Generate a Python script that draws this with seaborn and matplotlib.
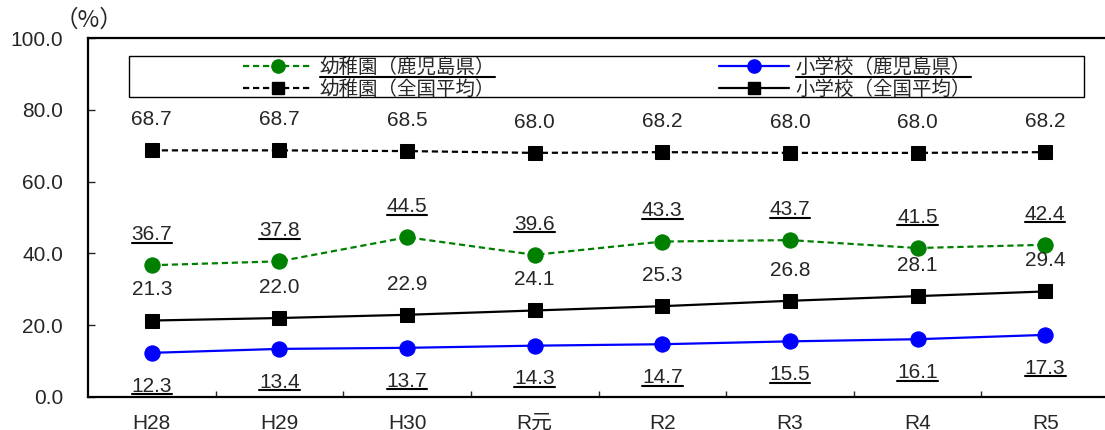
import numpy as np
import pandas as pd
import matplotlib
matplotlib.use("Agg")
import matplotlib.pyplot as plt
from matplotlib.lines import Line2D
from matplotlib.patches import Rectangle
import seaborn as sns

# ---- data ----
years = ["H28", "H29", "H30", "R元", "R2", "R3", "R4", "R5"]
kinder_kagoshima = [36.7, 37.8, 44.5, 39.6, 43.3, 43.7, 41.5, 42.4]
kinder_national = [68.7, 68.7, 68.5, 68.0, 68.2, 68.0, 68.0, 68.2]
elem_kagoshima = [12.3, 13.4, 13.7, 14.3, 14.7, 15.5, 16.1, 17.3]
elem_national = [21.3, 22.0, 22.9, 24.1, 25.3, 26.8, 28.1, 29.4]
series_names = ["幼稚園（鹿児島県）", "幼稚園（全国平均）", "小学校（鹿児島県）", "小学校（全国平均）"]

sns.set_style("ticks")
plt.rcParams["font.family"] = ["Liberation Sans", "Noto Sans CJK JP", "DejaVu Sans"]
JP = ["Noto Sans CJK JP", "DejaVu Sans"]

W, H = 1105, 430
fig = plt.figure(figsize=(W / 100, H / 100), dpi=100)
ax = fig.add_axes([88 / W, 1 - 397 / H, (1109 - 88) / W, (397 - 38) / H])

x = np.arange(len(years))
df = pd.DataFrame({
    "x": np.tile(x, 4),
    "value": kinder_kagoshima + kinder_national + elem_kagoshima + elem_national,
    "series": np.repeat(series_names, len(years)),
})

dash = (0, (2.8, 1.7))
styles = {
    series_names[0]: dict(color="#008000", ls=dash, marker="o", ms=11),
    series_names[1]: dict(color="black", ls=dash, marker="s", ms=10.5),
    series_names[2]: dict(color="#0000FF", ls="-", marker="o", ms=11),
    series_names[3]: dict(color="black", ls="-", marker="s", ms=10.5),
}

handles = []
for name in series_names:
    st = styles[name]
    sub = df[df["series"] == name]
    sns.lineplot(data=sub, x="x", y="value", ax=ax, color=st["color"],
                 linestyle=st["ls"], marker=st["marker"], markersize=st["ms"],
                 markeredgecolor=st["color"], linewidth=1.6, legend=False)
    handles.append(Line2D([], [], color=st["color"], linestyle=st["ls"],
                          marker=st["marker"], markersize=st["ms"] - 1.5, linewidth=1.6))

ax.set_xlim(-0.5, 7.5)
ax.set_ylim(0, 100)
ax.set_xlabel("")
ax.set_ylabel("")

ax.set_yticks(np.arange(0, 101, 20))
ax.set_yticklabels([f"{v:.1f}" for v in np.arange(0, 101, 20)], fontsize=15)
ax.set_xticks(x)
ax.set_xticklabels(years, fontsize=15)
ax.set_xticks(x[:-1] + 0.5, minor=True)
ax.tick_params(axis="x", which="major", length=0, pad=12)
ax.tick_params(axis="x", which="minor", direction="in", length=4.5, width=1)
ax.tick_params(axis="y", direction="in", length=5, width=1, pad=18)

for sp in ax.spines.values():
    sp.set_linewidth(1.6)
    sp.set_color("black")

# value labels
underlined = []
for vals, dy, ul in [(kinder_kagoshima, 22, True),
                     (kinder_national, 22, False),
                     (elem_national, 22, False),
                     (elem_kagoshima, -24, True)]:
    for xi, v in zip(x, vals):
        t = ax.annotate(f"{v:.1f}", (xi, v), xytext=(0, dy), textcoords="offset points",
                        ha="center", va="center", fontsize=15)
        if ul:
            underlined.append(t)

# legend
leg = ax.legend(handles, series_names, ncol=2, loc="center",
                bbox_to_anchor=((607 - 88) / (1109 - 88), 1 - (78 - 38) / (397 - 38)),
                frameon=False, prop={"family": JP, "size": 14}, handlelength=3.6,
                handletextpad=0.35, columnspacing=11.5, labelspacing=0.05, borderpad=0.1)
fig.add_artist(Rectangle((129 / W, 1 - 97 / H), (1084 - 129) / W, 41 / H,
                         transform=fig.transFigure, fill=False, edgecolor="black",
                         linewidth=1.0, zorder=5))

fig.text(89 / W, 1 - 20 / H, "（%）", fontsize=17, family=JP, ha="center", va="center")

# underlines for Kagoshima values and legend entries
fig.canvas.draw()
renderer = fig.canvas.get_renderer()
legend_texts = [t for t in leg.get_texts() if "鹿児島県" in t.get_text()]
inv = fig.transFigure.inverted()
for t in underlined + legend_texts:
    bb = t.get_window_extent(renderer)
    prop = t.get_fontproperties()
    _, _, d_lp = renderer.get_text_width_height_descent("lp", prop, ismath=False)
    _, _, d_tx = renderer.get_text_width_height_descent(t.get_text(), prop, ismath=False)
    baseline = bb.y0 + max(d_lp, d_tx)
    y = baseline - (4 if t in legend_texts else 2.5)
    (x0, y0), (x1, _) = inv.transform([(bb.x0, y), (bb.x1, y)])
    fig.add_artist(Line2D([x0, x1], [y0, y0], transform=fig.transFigure,
                          color="black", linewidth=1.5))

fig.savefig("out.png", dpi=100)
